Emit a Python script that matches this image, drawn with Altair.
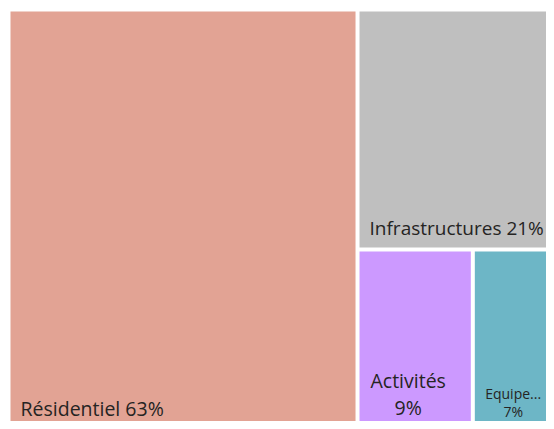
import altair as alt
import pandas as pd

# ---- data ----
categories = ["Résidentiel", "Infrastructures", "Activités", "Equipements"]
shown_names = ["Résidentiel", "Infrastructures", "Activités", "Equipe..."]
shares = [63, 21, 9, 7]
colors = ["#E2A394", "#BFBFBF", "#CC99FF", "#6DB6C6"]

# ---- layout constants (styles) ----
VIEW_W, VIEW_H = 538, 413          # plot area (clipped view)
ORIGIN_X, ORIGIN_Y = 2.5, 3.5      # treemap origin inside the view
TM_W, TM_H = 554, 423              # full treemap box (runs past the view)
GAP = 4
FONT = "Open Sans"
TEXT_COLOR = "#252423"


def worst(row, side):
    s = sum(row)
    return max(max(side * side * r / (s * s), s * s / (side * side * r)) for r in row)


def layout_row(row, x, y, w, h):
    s = sum(row)
    rects = []
    if w >= h:
        cw = s / h
        cy = y
        for r in row:
            rh = r / cw
            rects.append((x, cy, x + cw, cy + rh))
            cy += rh
        return rects, (x + cw, y, w - cw, h)
    rh = s / w
    cx = x
    for r in row:
        rw = r / rh
        rects.append((cx, y, cx + rw, y + rh))
        cx += rw
    return rects, (x, y + rh, w, h - rh)


def squarify(vals, x, y, w, h):
    total = sum(vals)
    areas = [v * w * h / total for v in vals]
    rects, row, i = [], [], 0
    while i < len(areas):
        side = min(w, h)
        a = areas[i]
        if not row or worst(row + [a], side) <= worst(row, side):
            row.append(a)
            i += 1
        else:
            r, (x, y, w, h) = layout_row(row, x, y, w, h)
            rects += r
            row = []
    if row:
        r, _ = layout_row(row, x, y, w, h)
        rects += r
    return rects


boxes = squarify(shares, ORIGIN_X, ORIGIN_Y, TM_W, TM_H)

rect_rows, text_left, text_center = [], [], []
for cat, name, v, col, (x0, y0, x1, y1) in zip(categories, shown_names, shares, colors, boxes):
    rx0, ry0, rx1, ry1 = x0, y0, x1 - GAP, y1 - GAP
    rect_rows.append(dict(cat=cat, x0=rx0, y0=ry0, x1=rx1, y1=ry1, color=col))
    width = rx1 - rx0
    at_bottom = abs(y1 - (ORIGIN_Y + TM_H)) < 1
    pct = f"{v}%"
    if width > 150:
        fs = 19.5 if at_bottom else 19
        base = VIEW_H - 5 if at_bottom else ry1 - 12.5
        text_left.append(dict(label=f"{name} {pct}", x=rx0 + 10, y=base, fs=fs))
    else:
        fs = 19.5 if width > 100 else 14
        lh = 27 if fs > 15 else 18
        last = VIEW_H - 6 if fs > 15 else VIEW_H - 4
        cx = (rx0 + rx1) / 2 - 7 if fs > 15 else (rx0 + rx1) / 2 - 4.5
        text_center.append(dict(label=name, x=cx, y=last - lh, fs=fs))
        text_center.append(dict(label=pct, x=cx, y=last, fs=fs))

rects_df = pd.DataFrame(rect_rows)
left_df = pd.DataFrame(text_left)
center_df = pd.DataFrame(text_center)

xs = alt.Scale(domain=[0, VIEW_W], nice=False, zero=False)
ys = alt.Scale(domain=[0, VIEW_H], nice=False, zero=False, reverse=True)

rects = alt.Chart(rects_df).mark_rect(clip=True).encode(
    x=alt.X("x0:Q", scale=xs, axis=None),
    x2="x1:Q",
    y=alt.Y("y0:Q", scale=ys, axis=None),
    y2="y1:Q",
    color=alt.Color("color:N", scale=None, legend=None),
)

labels_left = alt.Chart(left_df).mark_text(
    align="left", baseline="alphabetic", font=FONT, color=TEXT_COLOR
).encode(
    x=alt.X("x:Q", scale=xs, axis=None),
    y=alt.Y("y:Q", scale=ys, axis=None),
    text="label:N",
    size=alt.Size("fs:Q", scale=None, legend=None),
)

labels_center = alt.Chart(center_df).mark_text(
    align="center", baseline="alphabetic", font=FONT, color=TEXT_COLOR
).encode(
    x=alt.X("x:Q", scale=xs, axis=None),
    y=alt.Y("y:Q", scale=ys, axis=None),
    text="label:N",
    size=alt.Size("fs:Q", scale=None, legend=None),
)

chart = (
    alt.layer(rects, labels_left, labels_center)
    .properties(width=VIEW_W, height=VIEW_H, padding=0, background="white")
    .configure_view(stroke=None)
)

chart.save("out.html", embed_options={"renderer": "svg", "actions": False})
